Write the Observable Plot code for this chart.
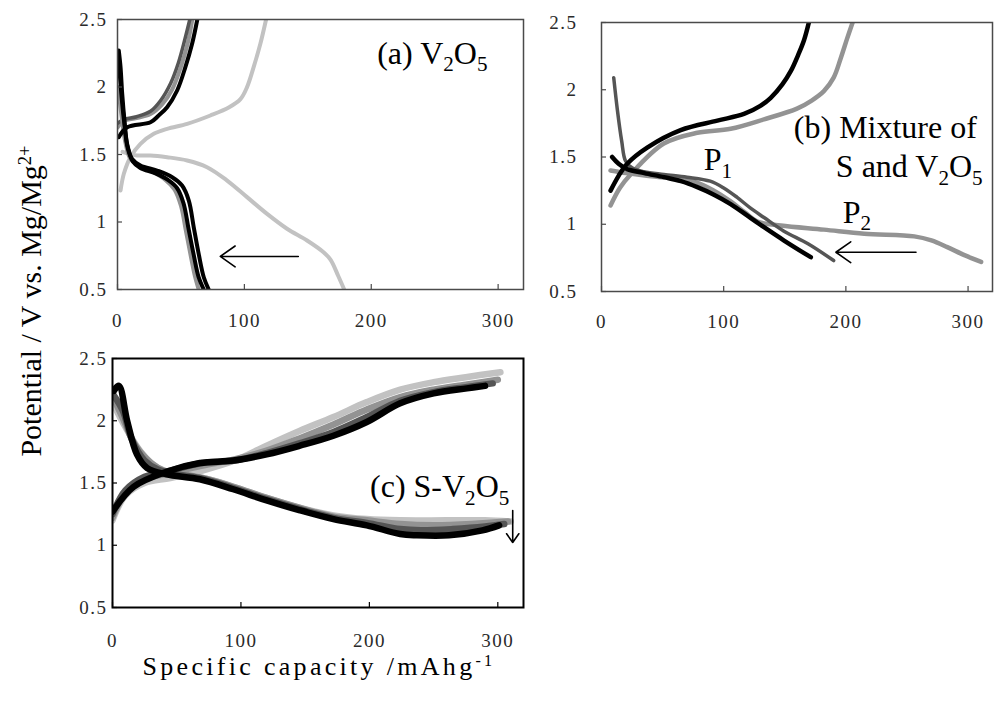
<!DOCTYPE html>
<html><head><meta charset="utf-8">
<script src="https://cdn.jsdelivr.net/npm/d3@7"></script>
<script src="https://cdn.jsdelivr.net/npm/@observablehq/plot@0.6"></script>
<style>
html,body{margin:0;padding:0;background:#fff;}
#chart{position:relative;width:994px;height:715px;overflow:hidden;font-family:"Liberation Serif","Times New Roman",serif;}
#chart svg{position:absolute;left:0;top:0;}
.ttl{position:absolute;color:#000;white-space:nowrap;font-family:"Liberation Serif","Times New Roman",serif;}
.ttl sup{font-size:62%;vertical-align:0;position:relative;top:-0.55em;}
</style></head><body><div id="chart"></div>
<script>
// ---------- shared axes ----------
const xDomain = [0, 320];
const yDomain = [0.5, 2.5];
const xTicks = [0, 100, 200, 300];
const yTicks = [0.5, 1, 1.5, 2, 2.5];
const xTitle = "Specific capacity /mAhg";
const xTitleSup = "-1";
const yTitle = "Potential / V vs. Mg/Mg";
const yTitleSup = "2+";

// ---------- panel (a) V2O5 : [capacity mAh/g, potential V] ----------
const aCharge1 = [[2.4,1.233],[5.0,1.357],[10.2,1.48],[18.1,1.579],[28.6,1.653],[39.1,1.69],[54.9,1.727],[73.2,1.789],[88,1.85],[96.9,1.91],[102.1,1.999],[107.3,2.147],[112.6,2.32],[117.1,2.5]];
const aDischarge1 = [[4,1.52],[15.5,1.493],[26,1.493],[39.1,1.48],[54.9,1.456],[70.6,1.406],[86.4,1.307],[102.1,1.184],[117.9,1.06],[133.6,0.95],[149.4,0.863],[162.4,0.776],[168,0.72],[174,0.6],[178.7,0.5]];
const aChargeGray1 = [[0,1.70],[5,1.75],[15,1.77],[26,1.80],[35,1.87],[43,1.98],[50,2.15],[55.5,2.33],[59,2.5]];
const aChargeGray2 = [[0,1.73],[5,1.76],[15,1.78],[26,1.82],[34,1.90],[42,2.03],[48,2.18],[53,2.35],[57,2.5]];
const aChargeBlack = [[1.0,1.628],[7.6,1.702],[26,1.739],[32.5,1.789],[39.1,1.85],[47,1.974],[53.5,2.147],[58.8,2.32],[62.9,2.5]];
const aDischargeGray = [[0.5,2.0],[3,1.8],[6,1.6],[10,1.47],[16,1.42],[28,1.37],[38,1.31],[45,1.24],[50,1.12],[54,0.93],[57.5,0.76],[61,0.6],[64,0.5]];
const aDischargeDark = [[1,2.2],[3,1.95],[5.5,1.72],[8,1.55],[12,1.45],[18,1.40],[30,1.36],[40,1.31],[47,1.25],[52,1.14],[56,0.95],[60,0.76],[64,0.59],[68,0.5]];
const aDischargeBlack = [[1.0,2.27],[2.4,2.147],[3.7,1.95],[5.5,1.752],[7.6,1.579],[11.5,1.468],[18.1,1.419],[31.2,1.381],[43.1,1.332],[50.9,1.27],[56.2,1.159],[60.1,0.961],[64.0,0.764],[68.0,0.591],[71.9,0.5]];
const aArrows = [{x1:142.5, y1:0.745, x2:81, y2:0.745}];
const aLabels = [{x:204.7, y:2.174, text:"(a) V_2O_5"}];

// ---------- panel (b) mixture of S and V2O5 ----------
const bChargeGray = [[7.4,1.14],[15,1.27],[23.8,1.37],[51,1.60],[78.4,1.68],[105.7,1.71],[133,1.78],[160,1.86],[172,1.92],[182,1.99],[190,2.09],[196,2.24],[201,2.38],[205.5,2.5]];
const bChargeBlack = [[7.4,1.25],[14,1.36],[21,1.45],[37.4,1.57],[64.8,1.70],[94.8,1.77],[116.6,1.82],[130,1.88],[138.5,1.94],[148,2.04],[155,2.14],[161,2.26],[165.8,2.37],[169.7,2.5]];
const bDischargeGray = [[7.4,1.40],[20,1.38],[37,1.36],[60,1.34],[78,1.31],[92,1.25],[105.7,1.17],[117,1.09],[127.6,1.02],[146.7,0.99],[182,0.96],[215,0.93],[256,0.91],[270,0.88],[283,0.83],[297,0.77],[310.7,0.72]];
const bDischargeDark = [[10,2.09],[13,1.85],[16.5,1.62],[19.7,1.47],[25,1.42],[35,1.39],[51,1.37],[70,1.35],[89,1.32],[100,1.27],[111,1.20],[122,1.12],[133,1.05],[149,0.95],[169,0.855],[190,0.73]];
const bDischargeBlack = [[8.7,1.50],[14,1.45],[21,1.41],[35,1.38],[51,1.35],[65,1.32],[78.4,1.276],[92,1.22],[105.7,1.15],[120,1.06],[133,0.978],[149.4,0.879],[171.3,0.755]];
const bArrows = [{x1:257.4, y1:0.792, x2:191.8, y2:0.792}];
const bLabels = [
  {x:157.4, y:1.638, text:"(b) Mixture of"},
  {x:191.8, y:1.348, text:"S and V_2O_5"},
  {x:83.6, y:1.40, text:"P_1"},
  {x:197.5, y:1.013, text:"P_2"}
];

// ---------- panel (c) S-V2O5 ----------
const cChargeLight = [[0,1.20],[10,1.40],[25,1.50],[45,1.54],[70,1.60],[95,1.68],[120,1.80],[146,1.92],[172,2.03],[198,2.15],[224,2.25],[250,2.31],[275,2.35],[302,2.39]];
const cChargeMid = [[0,1.22],[10,1.42],[25,1.53],[45,1.58],[70,1.64],[95,1.69],[120,1.76],[146,1.86],[172,1.97],[198,2.09],[224,2.19],[250,2.25],[275,2.29],[300,2.33]];
const cChargeDark = [[0,1.25],[10,1.44],[25,1.55],[45,1.60],[70,1.66],[95,1.68],[120,1.74],[146,1.82],[172,1.91],[198,2.03],[224,2.16],[250,2.23],[275,2.27],[296,2.30]];
const cChargeBlack = [[0,1.27],[16.5,1.47],[42,1.59],[68,1.66],[94,1.68],[120,1.73],[146,1.80],[172,1.88],[198,1.99],[224,2.14],[250,2.22],[276,2.26],[290,2.28]];
const cDischargeLight = [[0,2.15],[10,1.95],[22,1.75],[35,1.62],[48,1.56],[70,1.54],[94,1.47],[120,1.38],[146,1.30],[172,1.24],[198,1.21],[224,1.20],[260,1.20],[290,1.20],[310,1.19]];
const cDischargeMid = [[0,2.20],[8,2.02],[18,1.80],[30,1.66],[40,1.60],[55,1.57],[70,1.54],[94,1.47],[120,1.38],[146,1.30],[172,1.23],[198,1.20],[224,1.17],[250,1.16],[280,1.17],[308,1.19]];
const cDischargeDark = [[0,2.22],[8,2.08],[15,1.85],[25,1.68],[35,1.61],[50,1.57],[68,1.54],[94,1.46],[120,1.37],[146,1.29],[172,1.22],[198,1.18],[224,1.13],[240,1.12],[265,1.13],[290,1.15],[305,1.17]];
const cDischargeBlack = [[1,2.24],[5,2.28],[11.4,2.0],[19,1.73],[27,1.62],[42,1.57],[68,1.53],[94,1.45],[120,1.36],[146,1.28],[172,1.21],[198,1.16],[224,1.09],[237,1.08],[262,1.08],[288,1.12],[301,1.16]];
const cArrows = [{x1:311.6, y1:1.279, x2:311.6, y2:1.022}];
const cLabels = [{x:200.5, y:1.384, text:"(c) S-V_2O_5"}];

// ---------- colours ----------
const BLACK = "#000", DARK = "#555", MID = "#939393", LIGHT = "#c2c2c2";

const W = 994, H = 715, LABEL_FS = 32;
const SERIF = '"Liberation Serif","Times New Roman",serif';

function richify(svg, fs) {
  d3.select(svg).selectAll('g[aria-label="text"] text').each(function () {
    const raw = this.textContent;
    if (!/[_^]/.test(raw)) return;
    const el = d3.select(this);
    el.text(null);
    let cur = 0, m;
    const re = /([_^])\{([^}]*)\}|([_^])(.)|([^_^]+)/g;
    while ((m = re.exec(raw))) {
      const kind = m[1] || m[3] || null;
      const str = m[2] !== undefined ? m[2] : (m[4] !== undefined ? m[4] : m[5]);
      const target = kind === "_" ? 0.24 * fs : kind === "^" ? -0.38 * fs : 0;
      const t = el.append("tspan").text(str);
      if (target !== cur) t.attr("dy", target - cur);
      if (kind) t.attr("font-size", 0.66 * fs);
      cur = target;
    }
  });
  d3.select(svg).selectAll('g[aria-label="x-axis tick label"] text, g[aria-label="y-axis tick label"] text')
    .style("letter-spacing", "1.5px").style("font-family", SERIF);
}

function panel(cfg) {
  const fw = cfg.right - cfg.left, fh = cfg.bottom - cfg.top;
  const svg = Plot.plot({
    width: W, height: H,
    marginLeft: cfg.left, marginRight: W - cfg.right,
    marginTop: cfg.top, marginBottom: H - cfg.bottom,
    x: {domain: xDomain},
    y: {domain: yDomain},
    style: {background: "transparent", fontFamily: SERIF, overflow: "visible"},
    marks: [
      ...cfg.series.map(s => Plot.line(s.points, {stroke: s.color, strokeWidth: s.width, curve: "catmull-rom", clip: true, strokeLinecap: "round", strokeLinejoin: "round"})),
      Plot.tickY(yTicks, {y: d => d, insetRight: fw - 5, stroke: cfg.frameColor, strokeWidth: 1.2}),
      Plot.tickX(xTicks, {x: d => d, insetTop: fh - 5, stroke: cfg.frameColor, strokeWidth: 1.2}),
      Plot.frame({stroke: cfg.frameColor, strokeWidth: cfg.frameWidth}),
      Plot.axisX(xTicks, {tickSize: 0, tickPadding: cfg.padX, fontSize: 19, fontFamily: SERIF, color: "#2a2a2a", label: null, tickFormat: d => `${d}`}),
      Plot.axisY(yTicks, {tickSize: 0, tickPadding: cfg.padY, fontSize: 19, fontFamily: SERIF, color: "#2a2a2a", label: null, tickFormat: d => `${d}`}),
      Plot.arrow(cfg.arrows, {x1: "x1", y1: "y1", x2: "x2", y2: "y2", stroke: "#000", strokeWidth: 1.6, headLength: 17, headAngle: 70}),
      Plot.text(cfg.labels, {x: "x", y: "y", text: "text", textAnchor: "start", lineAnchor: "bottom", fontSize: LABEL_FS, fontFamily: SERIF, fill: "#000"})
    ]
  });
  richify(svg, LABEL_FS);
  return svg;
}

const chart = document.getElementById("chart");

chart.append(panel({
  left: 117, right: 523, top: 19, bottom: 289, padX: 24, padY: 10,
  frameColor: "#4a4a4a", frameWidth: 1.5,
  series: [
    {points: aCharge1, color: LIGHT, width: 4},
    {points: aDischarge1, color: LIGHT, width: 4},
    {points: aChargeGray1, color: MID, width: 4},
    {points: aChargeGray2, color: DARK, width: 3.5},
    {points: aDischargeGray, color: MID, width: 4},
    {points: aDischargeDark, color: BLACK, width: 4},
    {points: aChargeBlack, color: BLACK, width: 4},
    {points: aDischargeBlack, color: BLACK, width: 4}
  ],
  arrows: aArrows, labels: aLabels
}));

chart.append(panel({
  left: 601, right: 992, top: 22, bottom: 291, padX: 23, padY: 24,
  frameColor: "#4a4a4a", frameWidth: 1.5,
  series: [
    {points: bChargeGray, color: MID, width: 4.5},
    {points: bDischargeGray, color: MID, width: 4.5},
    {points: bDischargeDark, color: DARK, width: 3.5},
    {points: bChargeBlack, color: BLACK, width: 4.5},
    {points: bDischargeBlack, color: BLACK, width: 4.5}
  ],
  arrows: bArrows, labels: bLabels
}));

chart.append(panel({
  left: 112, right: 523, top: 358, bottom: 607, padX: 26, padY: 5,
  frameColor: "#000", frameWidth: 2,
  series: [
    {points: cChargeLight, color: LIGHT, width: 6.5},
    {points: cDischargeLight, color: LIGHT, width: 6.5},
    {points: cChargeMid, color: MID, width: 6.5},
    {points: cDischargeMid, color: MID, width: 6.5},
    {points: cChargeDark, color: DARK, width: 6.5},
    {points: cDischargeDark, color: DARK, width: 6.5},
    {points: cChargeBlack, color: BLACK, width: 6.5},
    {points: cDischargeBlack, color: BLACK, width: 6.5}
  ],
  arrows: cArrows, labels: cLabels
}));

// axis titles
const xt = document.createElement("div");
xt.className = "ttl";
xt.style.cssText = "left:0;width:638px;text-align:center;top:654px;font-size:26px;line-height:26px;letter-spacing:3.3px;";
xt.innerHTML = `${xTitle}<sup>${xTitleSup}</sup>`;
chart.append(xt);

const yt = document.createElement("div");
yt.className = "ttl";
yt.style.cssText = "left:33px;top:301px;font-size:30px;line-height:30px;transform:translate(-50%,-50%) rotate(-90deg);";
yt.innerHTML = `${yTitle}<sup>${yTitleSup}</sup>`;
chart.append(yt);
</script></body></html>
